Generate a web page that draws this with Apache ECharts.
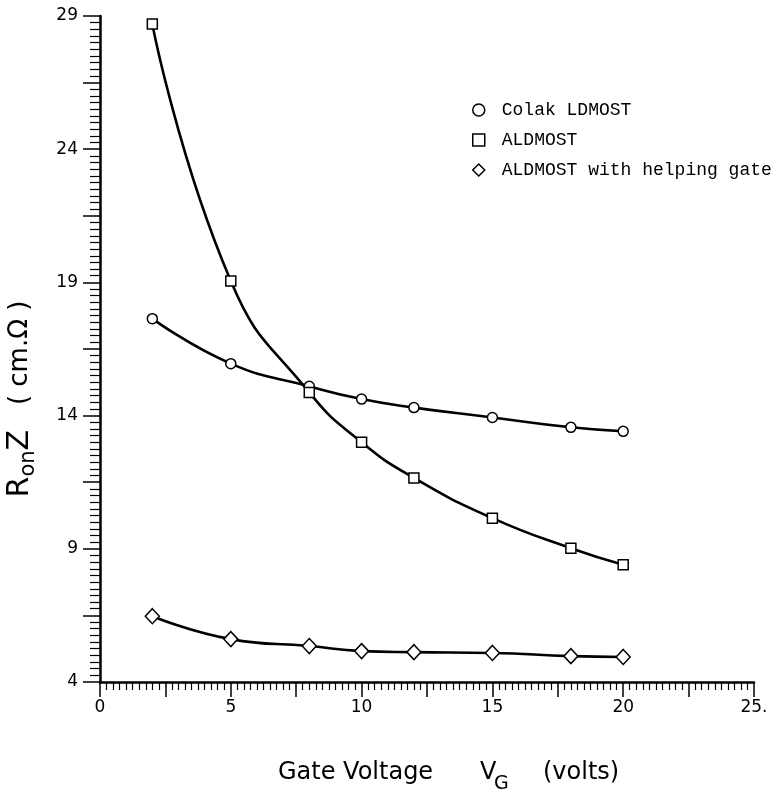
<!DOCTYPE html>
<html><head><meta charset="utf-8">
<script src="https://cdn.jsdelivr.net/npm/echarts@6/dist/echarts.min.js"></script>
<style>html,body{margin:0;padding:0;background:#fff}#c{width:780px;height:797px}</style>
</head><body><div id="c"></div>
<script>
// ---- data ----
const gateVoltage = [2, 5, 8, 10, 12, 15, 18, 20];
const colakLDMOST = [17.64, 15.95, 15.10, 14.62, 14.30, 13.93, 13.56, 13.41];
const aldmost = [28.70, 19.05, 14.87, 13.00, 11.66, 10.15, 9.02, 8.40];
const aldmostHelping = [6.47, 5.61, 5.35, 5.16, 5.12, 5.09, 4.97, 4.94];
const seriesNames = ['Colak LDMOST', 'ALDMOST', 'ALDMOST with helping gate'];
const xTickLabels = ['0', '5', '10', '15', '20', '25.'];
const yTickLabels = ['4', '9', '14', '19', '24', '29'];

const chart = echarts.init(document.getElementById('c'), null, {renderer: 'canvas'});
const pts = arr => gateVoltage.map((x, i) => [x, arr[i]]);
const markStyle = {color: '#fff', borderColor: '#000', borderWidth: 1.5};
const lineSeries = (name, arr, symbol, size) => ({
  name, type: 'line', data: pts(arr), smooth: 0.5,
  symbol, symbolSize: size, showSymbol: true,
  itemStyle: markStyle, lineStyle: {color: '#000', width: 2.6}, z: 3
});
const tickFont = {fontFamily: 'DejaVu Sans', fontSize: 17, color: '#000'};

chart.setOption({
  animation: false,
  backgroundColor: '#fff',
  grid: {left: 100, right: 26, top: 16, bottom: 115, containLabel: false},
  xAxis: {
    type: 'value', min: 0, max: 25, interval: 2.5,
    axisLine: {show: true, onZero: false, lineStyle: {color: '#000', width: 2.5}},
    axisTick: {show: true, inside: false, length: 15, lineStyle: {color: '#000', width: 1.5}},
    minorTick: {show: true, splitNumber: 10, length: 8, lineStyle: {color: '#000', width: 1.2}},
    splitLine: {show: false}, minorSplitLine: {show: false},
    axisLabel: Object.assign({margin: 17, showMaxLabel: true, showMinLabel: true,
      formatter: v => (Math.abs(v % 5) < 1e-6 ? xTickLabels[Math.round(v / 5)] : '')}, tickFont)
  },
  yAxis: {
    type: 'value', min: 4, max: 29, interval: 2.5,
    axisLine: {show: true, onZero: false, lineStyle: {color: '#000', width: 2.5}},
    axisTick: {show: true, inside: false, length: 17, lineStyle: {color: '#000', width: 1.5}},
    minorTick: {show: true, splitNumber: 10, length: 10, lineStyle: {color: '#000', width: 1.2}},
    splitLine: {show: false}, minorSplitLine: {show: false},
    axisLabel: Object.assign({margin: 22, showMaxLabel: true, showMinLabel: true,
      formatter: v => (Math.abs((v - 4) % 5) < 1e-6 ? yTickLabels[Math.round((v - 4) / 5)] : '')}, tickFont)
  },
  legend: {
    orient: 'vertical', left: 467, top: 96, itemWidth: 12, itemHeight: 12, itemGap: 12,
    itemStyle: markStyle,
    textStyle: {fontFamily: 'Liberation Mono', fontSize: 18, lineHeight: 16, color: '#000', padding: [0, 0, 0, 12]},
    data: [
      {name: seriesNames[0], icon: 'circle'},
      {name: seriesNames[1], icon: 'rect'},
      {name: seriesNames[2], icon: 'diamond'}
    ]
  },
  series: [
    lineSeries(seriesNames[0], colakLDMOST, 'circle', 10),
    lineSeries(seriesNames[1], aldmost, 'rect', 10),
    lineSeries(seriesNames[2], aldmostHelping, 'diamond', [14, 15])
  ],
  graphic: [
    {type: 'text', x: 22, y: 399, rotation: Math.PI / 2,
     style: {text: '{m|R}{s|on}{m|Z}{g|   ( cm.Ω )}', align: 'center', verticalAlign: 'middle', fill: '#000',
       rich: {
         m: {fontFamily: 'DejaVu Sans', fontSize: 30, lineHeight: 34, verticalAlign: 'top', fill: '#000'},
         s: {fontFamily: 'DejaVu Sans', fontSize: 21, lineHeight: 24, verticalAlign: 'bottom', padding: [14, 0, 0, 0], fill: '#000'},
         g: {fontFamily: 'DejaVu Sans', fontSize: 26, lineHeight: 34, verticalAlign: 'top', padding: [2, 0, 0, 0], fill: '#000'}
       }}},
    {type: 'text', x: 278, y: 773, style: {text: 'Gate Voltage', font: '24px "DejaVu Sans"', fill: '#000', align: 'left', verticalAlign: 'middle'}},
    {type: 'text', x: 480, y: 773, style: {text: 'V', font: '24px "DejaVu Sans"', fill: '#000', align: 'left', verticalAlign: 'middle'}},
    {type: 'text', x: 494, y: 784, style: {text: 'G', font: '19px "DejaVu Sans"', fill: '#000', align: 'left', verticalAlign: 'middle'}},
    {type: 'text', x: 543, y: 773, style: {text: '(volts)', font: '24px "DejaVu Sans"', fill: '#000', align: 'left', verticalAlign: 'middle'}}
  ]
});
</script></body></html>
